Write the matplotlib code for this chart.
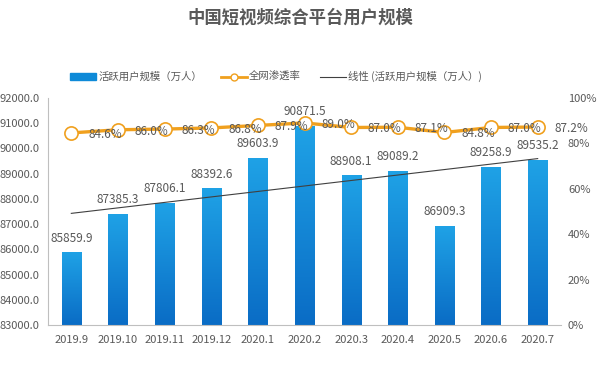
import numpy as np
import matplotlib
matplotlib.use("Agg")
from matplotlib import pyplot as plt
from matplotlib.lines import Line2D
from matplotlib.patches import Patch

plt.rcParams['font.family'] = ['Noto Sans CJK SC', 'DejaVu Sans']

# data
months = ['2019.9', '2019.10', '2019.11', '2019.12', '2020.1', '2020.2',
          '2020.3', '2020.4', '2020.5', '2020.6', '2020.7']
users = [85859.9, 87385.3, 87806.1, 88392.6, 89603.9, 90871.5,
         88908.1, 89089.2, 86909.3, 89258.9, 89535.2]
rate = [84.6, 86.0, 86.3, 86.8, 87.9, 89.0, 87.0, 87.1, 84.8, 87.0, 87.2]

grey = '#595959'
orange = '#F0A01E'

fig = plt.figure(figsize=(6, 3.65), dpi=100)
ax = fig.add_axes([0.08, 0.1096, 0.855, 0.622])
ax2 = ax.twinx()

x = np.arange(len(months))
bw = 0.41
bars = ax.bar(x, users, width=bw, color='#0E8AD8', zorder=2)

# gradient fill for bars (lighter at top)
grad = np.linspace(0, 1, 256).reshape(-1, 1)
cmap = matplotlib.colors.LinearSegmentedColormap.from_list('b', ['#1FA2E6', '#0A6CC5'])
for b in bars:
    x0, y0 = b.get_x(), 83000
    x1, y1 = x0 + b.get_width(), b.get_height()
    ax.imshow(grad, extent=[x0, x1, y0, y1], aspect='auto', cmap=cmap,
              origin='upper', zorder=2.1)

for xi, v in zip(x, users):
    ax.text(xi, v + 330, f'{v:.1f}', ha='center', va='bottom',
            fontsize=8.5, color=grey, zorder=3)

# linear trend of users
k, c = np.polyfit(x, users, 1)
ax.plot(x, k * x + c, color='#404040', lw=0.8, zorder=3)

ax.set_xlim(-0.5, len(months) - 0.5)
ax.set_ylim(83000, 92000)
ax.set_yticks(np.arange(83000, 92001, 1000))
ax.set_yticklabels([f'{t:.1f}' for t in np.arange(83000, 92001, 1000)])
ax.set_xticks(x)
ax.set_xticklabels(months)
ax.tick_params(axis='both', length=0, labelsize=8, colors=grey, pad=6)
ax.tick_params(axis='x', pad=7)
for s in ['top', 'right']:
    ax.spines[s].set_visible(False)
ax.spines['left'].set_color('#BFBFBF')
ax.spines['bottom'].set_color('#BFBFBF')

ax2.plot(x, rate, color=orange, lw=2.4, marker='o', markersize=9.5,
         markerfacecolor='white', markeredgecolor=orange, markeredgewidth=1.2,
         zorder=4)
for xi, r in zip(x, rate):
    ax2.text(xi + 0.36, r - 0.6, f'{r:.1f}%', ha='left', va='center',
             fontsize=8.5, color=grey, zorder=5)
ax2.set_ylim(0, 100)
ax2.set_yticks(np.arange(0, 101, 20))
ax2.set_yticklabels([f'{t}%' for t in range(0, 101, 20)])
ax2.tick_params(axis='y', length=0, labelsize=8, colors=grey, pad=5)
for s in ['top', 'right', 'left', 'bottom']:
    ax2.spines[s].set_visible(False)

fig.text(0.5, 0.953, '中国短视频综合平台用户规模', ha='center', va='center',
         fontsize=12.5, fontweight='bold', color=grey)

handles = [Patch(color='#0E8AD8'),
           Line2D([], [], color=orange, lw=2, marker='o', markersize=5,
                  markerfacecolor='white', markeredgecolor=orange),
           Line2D([], [], color='#404040', lw=0.8)]
labels = ['活跃用户规模（万人）', '全网渗透率', '线性 (活跃用户规模（万人）)']
fig.legend(handles, labels, loc='center', bbox_to_anchor=(0.46, 0.79), ncol=3,
           frameon=False, fontsize=7.5, labelcolor=grey, handlelength=2.5,
           handleheight=0.6, columnspacing=1.8, handletextpad=0.2)

fig.savefig('out.png', dpi=100)
